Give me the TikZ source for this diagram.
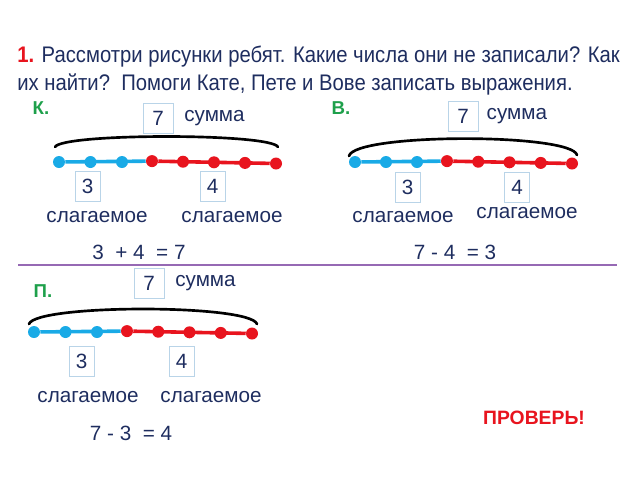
\documentclass[tikz,border=0pt]{standalone}
\usepackage{fontspec}
\setmainfont{Liberation Sans}
\newfontfamily\narrowfont[FakeStretch=0.9]{Liberation Sans}
\usetikzlibrary{positioning, backgrounds}
\definecolor{inkblue}{RGB}{30,45,95}
\definecolor{accentred}{RGB}{232,20,30}
\definecolor{accentgreen}{RGB}{30,160,75}
\definecolor{dotblue}{RGB}{25,170,230}
\definecolor{boxline}{RGB}{185,212,232}
\definecolor{rulepurple}{RGB}{150,105,180}

\tikzset{
  numbox/.style={draw=boxline, line width=0.6pt, fill=white, text=inkblue,
    minimum width=18.75pt, minimum height=22.5pt, inner sep=0pt,
    font=\fontsize{15.5}{15.5}\selectfont},
  sumbox/.style={numbox, minimum width=22.5pt},
  word/.style={text=inkblue, inner sep=0pt, font=\fontsize{15.5}{15.5}\selectfont},
  letter/.style={text=accentgreen, inner sep=0pt, font=\bfseries\fontsize{14}{14}\selectfont},
  bdot/.style={circle, fill=dotblue, inner sep=0pt, minimum size=9pt},
  rdot/.style={circle, fill=accentred, inner sep=0pt, minimum size=9pt},
  bseg/.style={dotblue, line width=2.7pt},
  rseg/.style={accentred, line width=2.7pt},
  arcline/.style={black, line width=2pt, line cap=round}
}

\begin{document}
\begin{tikzpicture}[x=0.75pt, y=-0.75pt]
    \useasboundingbox (0,0) rectangle (640,480);

    % Task text
    \node[anchor=base west, inner sep=0pt, text=inkblue, font=\narrowfont\fontsize{16.9}{16.9}\selectfont]
        (title1) at (17,62) {{\color{accentred}\bfseries 1.} Рассмотри рисунки ребят. Какие числа они не записали? Как};
    \node[anchor=base west, inner sep=0pt, text=inkblue, font=\narrowfont\fontsize{16.9}{16.9}\selectfont]
        (title2) at (17,90) {их найти?\ \ Помоги Кате, Пете и Вове записать выражения.};

    % K.
    \node[letter] (kname) at (41,108) {К.};
    \node[sumbox] (ksum) at (158,118) {7};
    \node[word, right=8pt of ksum] (ksumtext) {сумма};
    \coordinate (karcl) at (55,147);
    \coordinate (karcr) at (278,147);
    \draw[arcline] (karcl) .. controls (62,133) and (271,133) .. (karcr);
    \foreach \i in {1,2,3} {
        \node[bdot] (kb\i) at ({59+31.5*(\i-1)},162) {};
    }
    \foreach \i in {1,...,5} {
        \node[rdot] (kr\i) at ({152+31*(\i-1)},{160.5+0.6*\i}) {};
    }
    \node[numbox] (ka) at (87.5,186) {3};
    \node[numbox] (kb) at (212.5,186) {4};
    \node[word] (kaword) at (97,217) {слагаемое};
    \node[word] (kbword) at (232,217) {слагаемое};
    \node[word] (keq) at (139,252) {3\ \ + 4\ \ = 7};

    % B.
    \node[letter] (vname) at (341,108) {В.};
    \node[sumbox] (vsum) at (463,116) {7};
    \node[word, right=6pt of vsum] (vsumtext) {сумма};
    \coordinate (varcl) at (349,156);
    \coordinate (varcr) at (577,155);
    \draw[arcline] (varcl) .. controls (355,133) and (571,133) .. (varcr);
    \foreach \i in {1,2,3} {
        \node[bdot] (vb\i) at ({355+31*(\i-1)},162) {};
    }
    \foreach \i in {1,...,5} {
        \node[rdot] (vr\i) at ({447+31.25*(\i-1)},{160.5+0.6*\i}) {};
    }
    \node[numbox] (va) at (407.5,187) {3};
    \node[numbox] (vb) at (517,187) {4};
    \node[word] (vaword) at (403,217) {слагаемое};
    \node[word] (vbword) at (527,213) {слагаемое};
    \node[word] (veq) at (455,252) {7 - 4\ \ = 3};

    % separating rule
    \draw[rulepurple, line width=1.5pt] (18,265) -- (617,265);

    % P.
    \node[letter] (pname) at (43,291) {П.};
    \node[sumbox] (psum) at (149,283) {7};
    \node[word, right=8pt of psum] (psumtext) {сумма};
    \coordinate (parcl) at (29,324);
    \coordinate (parcr) at (257,324);
    \draw[arcline] (parcl) .. controls (36,304) and (250,304) .. (parcr);
    \foreach \i in {1,2,3} {
        \node[bdot] (pb\i) at ({34+31.5*(\i-1)},332) {};
    }
    \foreach \i in {1,...,5} {
        \node[rdot] (pr\i) at ({127+31.25*(\i-1)},{330.5+0.6*\i}) {};
    }
    \node[numbox] (pa) at (81.5,361.5) {3};
    \node[numbox] (pb) at (181.5,361.5) {4};
    \node[word] (paword) at (88,397) {слагаемое};
    \node[word] (pbword) at (211,397) {слагаемое};
    \node[word] (peq) at (131,433) {7 - 3\ \ = 4};

    \node[text=accentred, inner sep=0pt, font=\bfseries\fontsize{14.5}{14.5}\selectfont]
        (check) at (534,418) {ПРОВЕРЬ!};

    % number line segments behind the dots
    \begin{scope}[on background layer]
        \draw[bseg] (kb1) -- (kr1);
        \draw[rseg] (kr1) -- (kr5);
        \draw[bseg] (vb1) -- (vr1);
        \draw[rseg] (vr1) -- (vr5);
        \draw[bseg] (pb1) -- (pr1);
        \draw[rseg] (pr1) -- (pr5);
    \end{scope}
\end{tikzpicture}
\end{document}
